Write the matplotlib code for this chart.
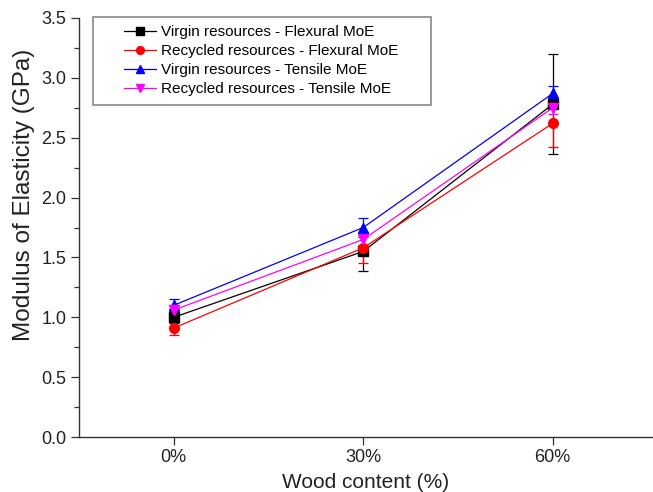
import matplotlib
matplotlib.use('Agg')
import matplotlib.pyplot as plt
from matplotlib.ticker import MultipleLocator, FormatStrFormatter
from matplotlib.patches import Rectangle

plt.rcParams['font.family'] = ['Liberation Sans', 'DejaVu Sans']

# wood content categories
wood = ['0%', '30%', '60%']

# modulus of elasticity (GPa) and error bars
virgin_flex = [1.00, 1.55, 2.78]
virgin_flex_err = [0.05, 0.16, 0.42]
recycled_flex = [0.91, 1.58, 2.62]
recycled_flex_err = [0.06, 0.13, 0.20]
virgin_tens = [1.10, 1.75, 2.87]
virgin_tens_err = [0.05, 0.08, 0.06]
recycled_tens = [1.06, 1.65, 2.75]
recycled_tens_err = [0.04, 0.05, 0.05]

series = [
   (virgin_flex, virgin_flex_err, 'black', 's', 'Virgin resources - Flexural MoE'),
   (recycled_flex, recycled_flex_err, 'red', 'o', 'Recycled resources - Flexural MoE'),
   (virgin_tens, virgin_tens_err, 'blue', '^', 'Virgin resources - Tensile MoE'),
   (recycled_tens, recycled_tens_err, 'magenta', 'v', 'Recycled resources - Tensile MoE'),
]

W, H = 653, 492
AX_L, AX_B, AX_W, AX_H = 79, 55, 581, 419

fig = plt.figure(figsize=(W/100, H/100), dpi=100)
ax = fig.add_axes([AX_L/W, AX_B/H, AX_W/W, AX_H/H])

x = list(range(len(wood)))
handles = []
labels = []
for vals, errs, color, marker, label in series:
   c = ax.errorbar(x, vals, yerr=errs, color=color, marker=marker, markersize=7,
                   linewidth=0.9, elinewidth=0.9, capsize=3.6, capthick=0.9)
   handles.append(c[0])
   labels.append(label)

ax.set_xlim(-0.5, 2.566)
ax.set_ylim(0, 3.5)
ax.set_xticks(x)
ax.set_xticklabels(wood)
ax.yaxis.set_major_locator(MultipleLocator(0.5))
ax.yaxis.set_minor_locator(MultipleLocator(0.25))
ax.yaxis.set_major_formatter(FormatStrFormatter('%.1f'))

ax.spines['top'].set_visible(False)
ax.spines['right'].set_visible(False)
for s in ['left', 'bottom']:
   ax.spines[s].set_linewidth(1.0)
   ax.spines[s].set_color('#333333')

ax.tick_params(axis='both', which='major', direction='out', length=6, width=0.9,
               labelsize=13, colors='#333333', labelcolor='#222222', pad=3)
ax.tick_params(axis='y', which='minor', direction='out', length=3.5, width=0.9, colors='#333333')

ax.set_xlabel('Wood content (%)', fontsize=15, color='#222222')
ax.xaxis.set_label_coords(287/AX_W, -36/AX_H)
ax.xaxis.label.set_va('top')
ax.set_ylabel('Modulus of Elasticity (GPa)', fontsize=17.5, color='#222222')
ax.yaxis.set_label_coords(-44/AX_W, 0.578)

# legend frame drawn separately (wide padding in the original)
def px_to_ax(px, py):
   return (px - AX_L) / AX_W, (H - py - AX_B) / AX_H

x0, y1 = px_to_ax(93, 17)
x1, y0 = px_to_ax(431, 105)
ax.add_patch(Rectangle((x0, y0), x1 - x0, y1 - y0, transform=ax.transAxes,
                       facecolor='white', edgecolor='#888888', linewidth=1.2,
                       clip_on=False, zorder=5))

lx, ly = px_to_ax(124, 25)
leg = ax.legend(handles, labels, loc='upper left', bbox_to_anchor=(lx, ly), borderaxespad=0,
                fontsize=11, frameon=False, handlelength=2.1, labelspacing=0.33,
                borderpad=0, handletextpad=0.35, markerscale=0.8)
leg.set_zorder(6)

fig.savefig('out.png', dpi=100)
